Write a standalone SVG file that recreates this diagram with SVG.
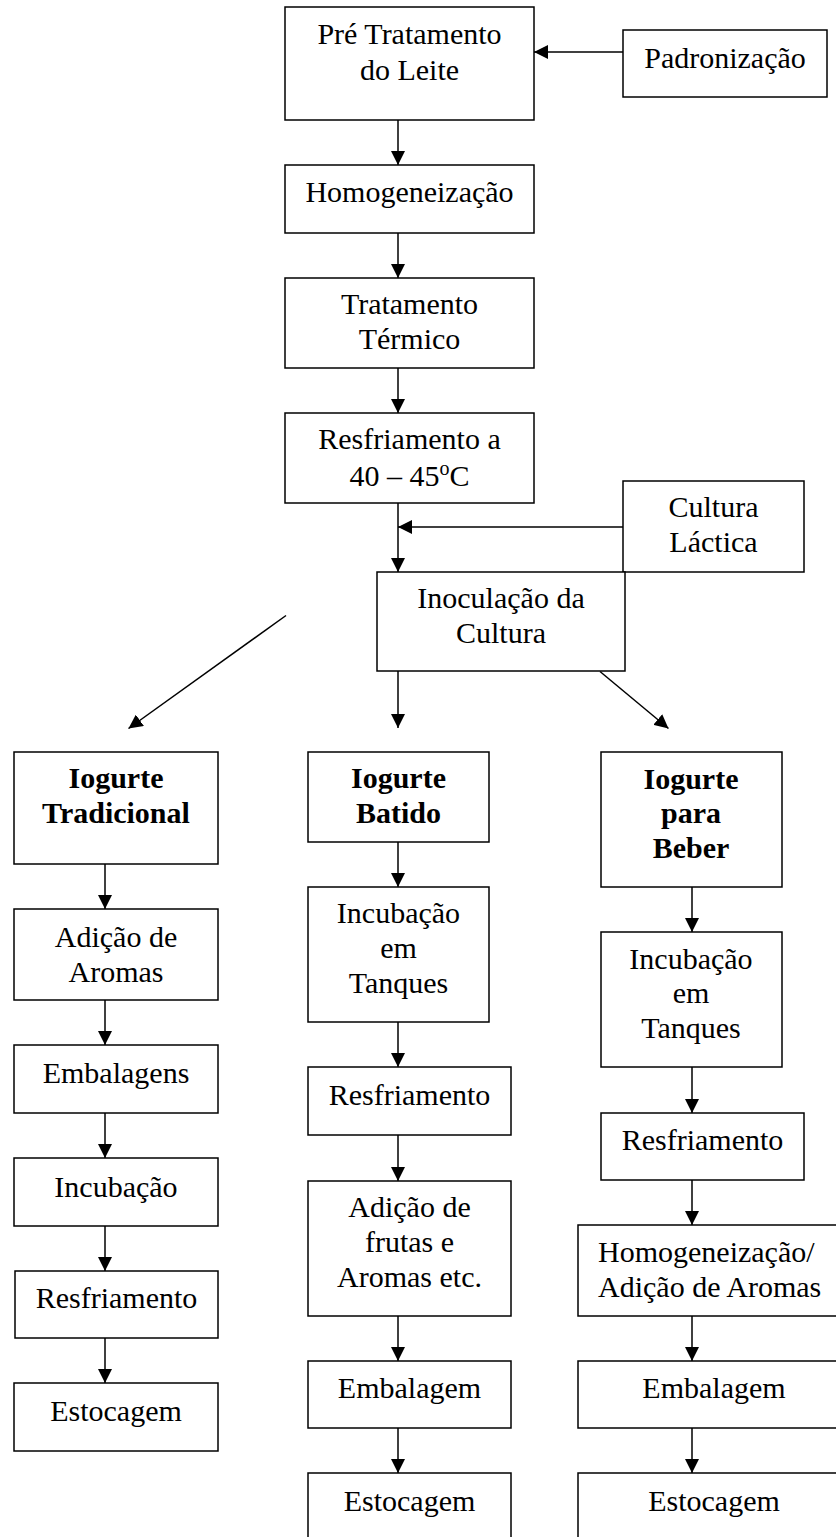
<svg xmlns="http://www.w3.org/2000/svg" width="836" height="1537" viewBox="0 0 836 1537">
<style>
.b{fill:#fff;stroke:#000;stroke-width:1.5}
.t{font-family:"Liberation Serif","Times New Roman",serif;font-size:30px;fill:#000;text-anchor:middle}
.bd{font-weight:bold}
.l{text-anchor:start}
.c{stroke:#000;stroke-width:1.5;fill:none;marker-end:url(#ah)}
</style>
<defs>
<marker id="ah" markerUnits="userSpaceOnUse" markerWidth="14" markerHeight="14" viewBox="0 0 13 13" refX="13" refY="6.5" orient="auto">
<path d="M0,0 L13,6.5 L0,13 z" fill="#000"/>
</marker>
</defs>
<rect width="836" height="1537" fill="#fff"/>
<g id="connectors">
<line class="c" x1="623" y1="52" x2="534" y2="52"/>
<line class="c" x1="398" y1="120" x2="398" y2="165"/>
<line class="c" x1="398" y1="233" x2="398" y2="278"/>
<line class="c" x1="398" y1="368" x2="398" y2="413"/>
<line class="c" x1="398" y1="503" x2="398" y2="572"/>
<line class="c" x1="623" y1="527" x2="398" y2="527"/>
<line class="c" x1="286" y1="615.5" x2="128.5" y2="728.5"/>
<line class="c" x1="398" y1="671" x2="398" y2="728"/>
<line class="c" x1="600" y1="671.5" x2="668.5" y2="728.5"/>
<line class="c" x1="105" y1="864" x2="105" y2="909"/>
<line class="c" x1="105" y1="1000" x2="105" y2="1045"/>
<line class="c" x1="105" y1="1113" x2="105" y2="1158"/>
<line class="c" x1="105" y1="1226" x2="105" y2="1271"/>
<line class="c" x1="105" y1="1338" x2="105" y2="1383"/>
<line class="c" x1="398" y1="842" x2="398" y2="887"/>
<line class="c" x1="398" y1="1022" x2="398" y2="1067"/>
<line class="c" x1="398" y1="1135" x2="398" y2="1181"/>
<line class="c" x1="398" y1="1316" x2="398" y2="1361"/>
<line class="c" x1="398" y1="1428" x2="398" y2="1473"/>
<line class="c" x1="692" y1="887" x2="692" y2="932"/>
<line class="c" x1="692" y1="1067" x2="692" y2="1113"/>
<line class="c" x1="692" y1="1180" x2="692" y2="1225"/>
<line class="c" x1="692" y1="1316" x2="692" y2="1361"/>
<line class="c" x1="692" y1="1428" x2="692" y2="1473"/>
</g>
<g id="pre-tratamento"><rect class="b" x="285" y="7" width="249" height="113"/><text class="t" x="409.5" y="44">Pré Tratamento</text><text class="t" x="409.5" y="80">do Leite</text></g>
<g id="padronizacao"><rect class="b" x="623" y="30" width="204" height="67"/><text class="t" x="725" y="68">Padronização</text></g>
<g id="homogeneizacao"><rect class="b" x="285" y="165" width="249" height="68"/><text class="t" x="409.5" y="202">Homogeneização</text></g>
<g id="tratamento-termico"><rect class="b" x="285" y="278" width="249" height="90"/><text class="t" x="409.5" y="314">Tratamento</text><text class="t" x="409.5" y="349">Térmico</text></g>
<g id="resfriamento-40-45"><rect class="b" x="285" y="413" width="249" height="90"/><text class="t" x="409.5" y="449">Resfriamento a</text><text class="t" x="409.5" y="486">40 – 45<tspan font-size="20" dy="-11">o</tspan><tspan dy="11">C</tspan></text></g>
<g id="cultura-lactica"><rect class="b" x="623" y="481" width="181" height="91"/><text class="t" x="713.5" y="517">Cultura</text><text class="t" x="713.5" y="552">Láctica</text></g>
<g id="inoculacao"><rect class="b" x="377" y="572" width="248" height="99"/><text class="t" x="501" y="608">Inoculação da</text><text class="t" x="501" y="643">Cultura</text></g>
<g id="iogurte-tradicional"><rect class="b" x="14" y="752" width="204" height="112"/><text class="t bd" x="116" y="788">Iogurte</text><text class="t bd" x="116" y="823">Tradicional</text></g>
<g id="iogurte-batido"><rect class="b" x="308" y="752" width="181" height="90"/><text class="t bd" x="398.5" y="788">Iogurte</text><text class="t bd" x="398.5" y="823">Batido</text></g>
<g id="iogurte-beber"><rect class="b" x="601" y="752" width="181" height="135"/><text class="t bd" x="691" y="789">Iogurte</text><text class="t bd" x="691" y="823">para</text><text class="t bd" x="691" y="858">Beber</text></g>
<g id="t-adicao-aromas"><rect class="b" x="14" y="909" width="204" height="91"/><text class="t" x="116" y="947">Adição de</text><text class="t" x="116" y="982">Aromas</text></g>
<g id="t-embalagens"><rect class="b" x="14" y="1045" width="204" height="68"/><text class="t" x="116" y="1083">Embalagens</text></g>
<g id="t-incubacao"><rect class="b" x="14" y="1158" width="204" height="68"/><text class="t" x="116" y="1197">Incubação</text></g>
<g id="t-resfriamento"><rect class="b" x="15" y="1271" width="203" height="67"/><text class="t" x="116.5" y="1308">Resfriamento</text></g>
<g id="t-estocagem"><rect class="b" x="14" y="1383" width="204" height="68"/><text class="t" x="116" y="1421">Estocagem</text></g>
<g id="b-incubacao"><rect class="b" x="308" y="887" width="181" height="135"/><text class="t" x="398.5" y="923">Incubação</text><text class="t" x="398.5" y="958">em</text><text class="t" x="398.5" y="993">Tanques</text></g>
<g id="b-resfriamento"><rect class="b" x="308" y="1067" width="203" height="68"/><text class="t" x="409.5" y="1105">Resfriamento</text></g>
<g id="b-adicao-frutas"><rect class="b" x="308" y="1181" width="203" height="135"/><text class="t" x="409.5" y="1217">Adição de</text><text class="t" x="409.5" y="1252">frutas e</text><text class="t" x="409.5" y="1287">Aromas etc.</text></g>
<g id="b-embalagem"><rect class="b" x="308" y="1361" width="203" height="67"/><text class="t" x="409.5" y="1398">Embalagem</text></g>
<g id="b-estocagem"><rect class="b" x="308" y="1473" width="203" height="68"/><text class="t" x="409.5" y="1511">Estocagem</text></g>
<g id="d-incubacao"><rect class="b" x="601" y="932" width="181" height="135"/><text class="t" x="691" y="969">Incubação</text><text class="t" x="691" y="1003">em</text><text class="t" x="691" y="1038">Tanques</text></g>
<g id="d-resfriamento"><rect class="b" x="601" y="1113" width="203" height="67"/><text class="t" x="702.5" y="1150">Resfriamento</text></g>
<g id="d-homogeneizacao-aromas"><rect class="b" x="578" y="1225" width="272" height="91"/><text class="t l" x="598" y="1262">Homogeneização/</text><text class="t l" x="598" y="1297">Adição de Aromas</text></g>
<g id="d-embalagem"><rect class="b" x="578" y="1361" width="272" height="67"/><text class="t" x="714" y="1398">Embalagem</text></g>
<g id="d-estocagem"><rect class="b" x="578" y="1473" width="272" height="68"/><text class="t" x="714" y="1511">Estocagem</text></g>
</svg>
